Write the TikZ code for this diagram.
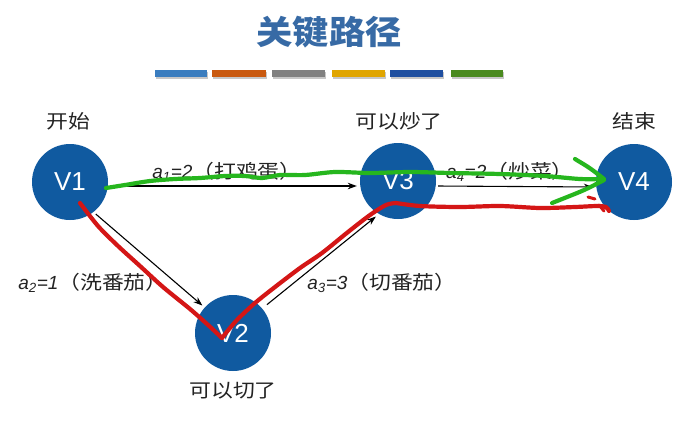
\documentclass[tikz,border=0pt]{standalone}
\usepackage{fontspec}
\setmainfont{Liberation Sans}
\newfontfamily\cjk[FakeStretch=1.15]{Noto Sans CJK SC}
\newfontfamily\cjktitle[FakeStretch=1.1]{Noto Sans CJK SC}
\usetikzlibrary{arrows.meta}
\definecolor{nodeblue}{RGB}{16,90,160}
\definecolor{titleblue}{RGB}{55,106,165}
\definecolor{txtgray}{RGB}{35,35,35}
\definecolor{penred}{RGB}{212,22,22}
\definecolor{pengreen}{RGB}{38,182,30}
\definecolor{barA}{RGB}{58,125,191}
\definecolor{barB}{RGB}{201,89,15}
\definecolor{barC}{RGB}{128,128,128}
\definecolor{barD}{RGB}{224,165,0}
\definecolor{barE}{RGB}{31,79,160}
\definecolor{barF}{RGB}{74,138,31}
\begin{document}
\begin{tikzpicture}[x=1pt,y=-1pt,
  vtx/.style={circle,fill=nodeblue,minimum size=76pt,inner sep=0pt,text=white,font=\fontsize{26}{30}\selectfont},
  lbl/.style={font=\cjk\fontsize{19}{22}\selectfont,text=txtgray,inner sep=0pt},
  elbl/.style={font=\fontsize{19}{22}\selectfont,text=txtgray,inner sep=0pt},
  arr/.style={-{Stealth[length=9pt,width=6.5pt]},line width=1.1pt,black},
  redpen/.style={line width=4.2pt,draw=penred,line cap=round,line join=round},
  greenpen/.style={line width=4.2pt,draw=pengreen,line cap=round,line join=round},
  barshadow/.style={fill=black!22},
]
\fill[white] (0,0) rectangle (685,421);
\useasboundingbox (0,0) rectangle (685,421);

% title
\node[font=\cjktitle\bfseries\fontsize{33}{38}\selectfont,text=titleblue] (title) at (329,32) {关键路径};

% colour bars
\foreach \xa/\xb/\c in {155/207/barA,212/266/barB,272/325/barC,332/385/barD,390/443/barE,451/503/barF}{
  \fill[barshadow] (\xa+1,72) rectangle (\xb+1,79);
  \fill[\c] (\xa,70) rectangle (\xb,77);
}

% vertices
\node[vtx] (V1) at (70,182) {V1};
\node[vtx] (V2) at (233,333) {V2};
\node[vtx] (V3) at (398,181) {V3};
\node[vtx] (V4) at (634,182) {V4};

% vertex captions
\node[lbl] (l1) at (68,121) {开始};
\node[lbl] (l3) at (399,121) {可以炒了};
\node[lbl] (l4) at (634,121) {结束};
\node[lbl] (l2) at (233,391) {可以切了};

% edges
\draw[arr,shorten <=2pt,shorten >=3pt] ([yshift=-4pt]V1.east) -- ([yshift=-5pt]V3.west);
\draw[arr,shorten <=2pt,shorten >=3pt] ([yshift=-5pt]V3.east) -- ([yshift=-5pt]V4.west);
\draw[arr,shorten <=3pt,shorten >=3pt] (V1.-52) -- (V2.138);
\draw[arr,shorten <=6pt,shorten >=4pt] (V2.40) -- (V3.240);

% edge labels
\node[elbl] (e1) at (227,172) {\textit{a}\textsubscript{\textit{1}}\textit{=2}{\cjk （打鸡蛋）}};
\node[elbl] (e4) at (510,172) {\textit{a}\textsubscript{\textit{4}}\textit{=2}{\cjk （炒菜）}};
\node[elbl] (e2) at (93,283) {\textit{a}\textsubscript{\textit{2}}\textit{=1}{\cjk （洗番茄）}};
\node[elbl] (e3) at (382,283) {\textit{a}\textsubscript{\textit{3}}\textit{=3}{\cjk （切番茄）}};

% hand-drawn red critical path
\draw[redpen] plot[smooth,tension=0.5] coordinates {(80,203) (98,226) (118,246) (140,266) (163,287) (190,309) (207,324) (222,338)};
\draw[redpen] plot[smooth,tension=0.5] coordinates {(222,338) (236,321) (255,303) (275,287) (300,268) (322,253) (348,232) (370,215) (386,205) (396,203)};
\draw[redpen] plot[smooth,tension=0.5] coordinates {(396,203) (420,206) (460,207) (500,206) (540,208) (575,207) (597,206) (606,207) (609,211)};
\draw[redpen,line width=3pt] (588,197) -- (595,199);
\draw[redpen,line width=3pt] (599,205) -- (604,211);

% hand-drawn green path
\draw[greenpen] plot[smooth,tension=0.5] coordinates {(106,188) (125,185) (150,181) (175,179) (200,178) (225,176) (245,176) (262,178) (280,175) (305,175) (335,172) (370,173) (410,172) (450,173) (500,174) (545,176) (580,179) (603,179)};
\draw[greenpen] (575,159) .. controls (590,168) .. (604,179);
\draw[greenpen] (604,180) .. controls (585,190) .. (552,203);
\end{tikzpicture}
\end{document}
